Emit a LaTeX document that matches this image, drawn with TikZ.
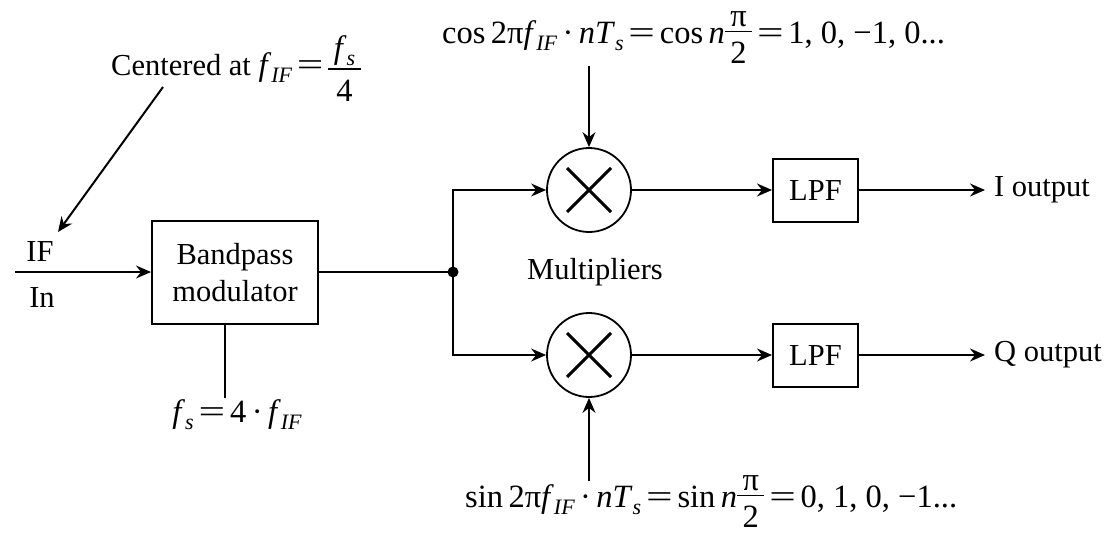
\documentclass[tikz,border=0pt]{standalone}
\usepackage{fontspec}
\usepackage{graphicx}
\setmainfont{Liberation Serif}
\usetikzlibrary{arrows.meta}
\newcommand{\sbs}[1]{\raisebox{-0.22em}{\fontsize{22}{22}\selectfont\itshape #1}}
\newcommand{\fracbox}[2]{\raisebox{17pt}{\vtop{\offinterlineskip\halign{\hfil##\hfil\cr
   \vrule height 0pt depth 2pt width 0pt\,#1\,\cr
   \noalign{\vskip3pt\hrule height 1.4pt\vskip10pt}
   \,#2\,\cr}}}}
\newcommand{\eqs}{\hspace{0.15em}\scalebox{1.45}[1]{=}\hspace{0.15em}}
\begin{document}
\begin{tikzpicture}[x=1pt,y=-1pt,
  every node/.style={font=\fontsize{30.5}{34}\selectfont},
  mathlbl/.style={font=\fontsize{32.5}{36}\selectfont},
  wire/.style={line width=2pt},
  arr/.style={wire,-{Stealth[length=15pt,width=13pt,inset=5pt]}},
  blockbox/.style={draw,line width=2pt,rectangle,inner sep=0pt},
  mult/.style={draw,line width=1.8pt,circle,minimum size=84pt,inner sep=0pt},
  lbl/.style={inner sep=0pt}]
\useasboundingbox (0,0) rectangle (1107,536);

% blocks
\node[blockbox,minimum width=166pt,minimum height=103pt,align=center] (bp) at (235,272.5)
  {Bandpass\\[3pt]modulator};
\node[mult] (m1) at (589,190) {};
\node[mult] (m2) at (589,355) {};
\foreach \m in {m1,m2}{
  \draw[line width=3pt] ([shift={(-22,-22)}]\m.center) -- ([shift={(22,22)}]\m.center);
  \draw[line width=3pt] ([shift={(-22,22)}]\m.center) -- ([shift={(22,-22)}]\m.center);
}
\node[blockbox,minimum width=85pt,minimum height=63pt] (lpf1) at (815.5,190.5) {LPF};
\node[blockbox,minimum width=85pt,minimum height=63pt] (lpf2) at (815.5,355.5) {LPF};

% labels
\node[lbl] (if) at (40,252) {IF};
\node[lbl] (in) at (42,298) {In};
\node[lbl,anchor=base west] (cen) at (111,75)
  {Centered at {\fontsize{32.5}{36}\selectfont\textit{f}\sbs{IF}\eqs\fracbox{\textit{f}\sbs{s}}{4}}};
\node[lbl,mathlbl,anchor=base] (fs) at (237,422) {\textit{f}\sbs{s}\eqs 4\,·\,\textit{f}\sbs{IF}};
\node[lbl] (mul) at (595,272) {Multipliers};
\node[lbl,mathlbl,anchor=base west] (cos) at (442,43)
  {cos\,2π\textit{f}\sbs{IF}\,·\,\textit{nT}\sbs{s}\eqs cos\,\textit{n}\fracbox{π}{2}\eqs 1, 0, −1, 0...};
\node[lbl,mathlbl,anchor=base west] (sin) at (465,507)
  {sin\,2π\textit{f}\sbs{IF}\,·\,\textit{nT}\sbs{s}\eqs sin\,\textit{n}\fracbox{π}{2}\eqs 0, 1, 0, −1...};
\node[lbl,anchor=west] (iout) at (994,190) {I output};
\node[lbl,anchor=west] (qout) at (994,355) {Q output};

% coordinates
\coordinate (inst) at (15,272);
\coordinate (dot) at (453,272);
\coordinate (censt) at (163,87);
\coordinate (cenend) at (58,232);
\coordinate (fsst) at (225,398);
\coordinate (cosst) at (589,66);
\coordinate (sinst) at (589,481);
\coordinate (iend) at (985,190);
\coordinate (qend) at (985,355);

% connectors
\draw[arr] (censt) -- (cenend);
\draw[arr] (inst) -- (bp.west |- inst);
\draw[wire] (bp.south -| fsst) -- (fsst);
\draw[wire] (bp.east |- dot) -- (dot);
\fill (dot) circle (5.5pt);
\draw[arr,line width=1.6pt] (dot) |- (m1.west);
\draw[arr,line width=1.6pt] (dot) |- (m2.west);
\draw[arr] (cosst) -- (m1.north);
\draw[arr] (sinst) -- (m2.south);
\draw[arr] (m1.east) -- (lpf1.west |- m1.east);
\draw[arr] (m2.east) -- (lpf2.west |- m2.east);
\draw[arr] (lpf1.east |- iend) -- (iend);
\draw[arr] (lpf2.east |- qend) -- (qend);
\end{tikzpicture}
\end{document}
